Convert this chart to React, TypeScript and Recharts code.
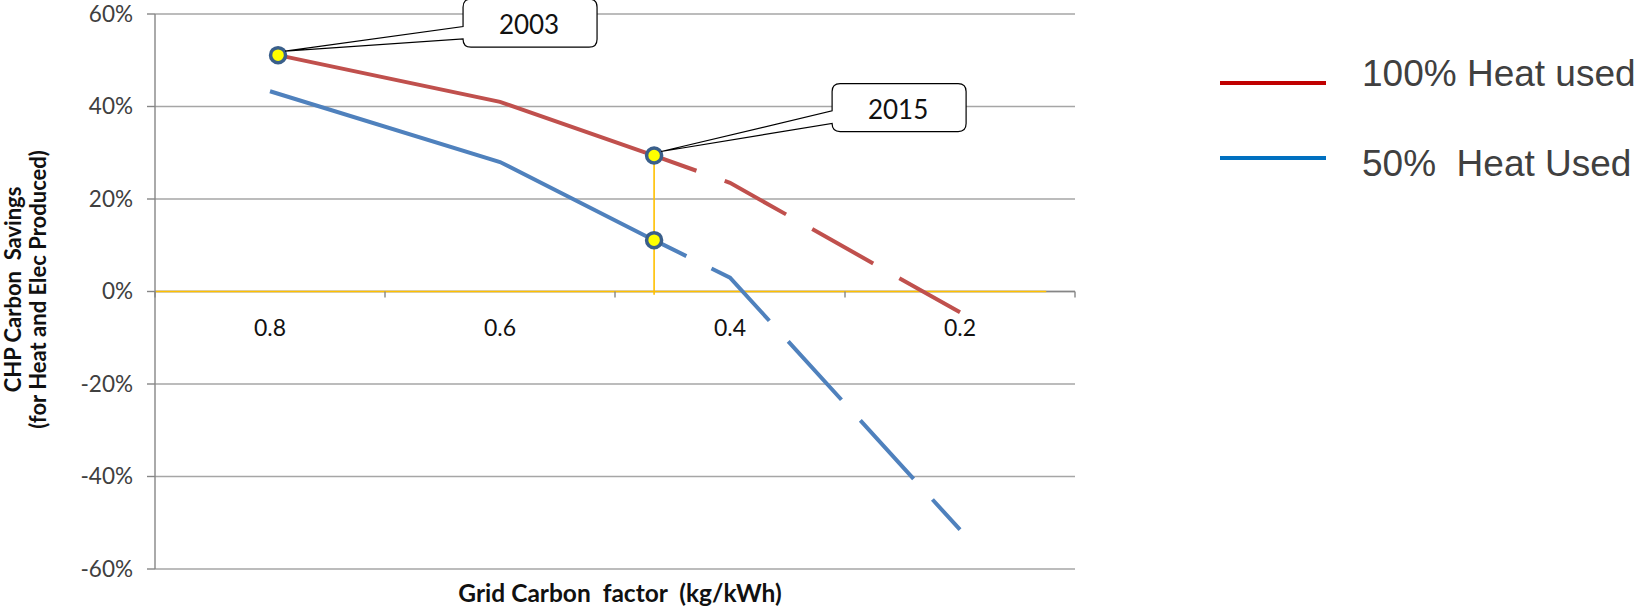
import React from 'react';
import {
  ComposedChart, Line, Scatter, XAxis, YAxis, CartesianGrid,
  ReferenceLine, ReferenceDot,
} from 'recharts';

// grid carbon factor (kg/kWh) vs CHP carbon savings (%)
const red100Solid = [
  { x: 0.793, y: 51.1 },
  { x: 0.6, y: 41 },
  { x: 0.466, y: 29.4 },
];
const red100Dashed = [
  { x: 0.466, y: 29.4 },
  { x: 0.4, y: 23.5 },
  { x: 0.2, y: -4.5 },
];
const blue50Solid = [
  { x: 0.8, y: 43.3 },
  { x: 0.6, y: 28 },
  { x: 0.466, y: 11.1 },
];
const blue50Dashed = [
  { x: 0.466, y: 11.1 },
  { x: 0.4, y: 3 },
  { x: 0.2, y: -51.5 },
];
const yearMarkers = [
  { x: 0.793, y: 51.1 },
  { x: 0.466, y: 29.4 },
  { x: 0.466, y: 11.1 },
];
const callouts = [
  { x: 0.793, y: 51.1, label: '2003', dx: 185, dy: -56 },
  { x: 0.466, y: 29.4, label: '2015', dx: 178, dy: -72 },
];
const xLabels = [0.8, 0.6, 0.4, 0.2];
const xTickMarks = [0.9, 0.7, 0.5, 0.3, 0.1];
const yTicks = [-60, -40, -20, 0, 20, 40, 60];
const legendItems = [
  { name: '100% Heat used', color: '#C00000' },
  { name: '50%  Heat Used', color: '#0070C0' },
];

const RED = '#C0504D';
const BLUE = '#4F81BD';
const GOLD = '#FFC000';
const GRID = '#A6A6A6';
const AXIS = '#868686';
const TXT = '#404040';
const FONT = 'Lato, "Open Sans", sans-serif';

const Callout = ({ cx, cy, dx, dy, label }: any) => {
  const w = 134, h = 48, r = 8;
  const left = cx + dx, top = cy + dy;
  const a1 = top + h * 0.57, a2 = top + h * 0.83;
  const tipX = cx + 7, tipY = cy - 4;
  const d = [
    `M ${left + r} ${top}`,
    `L ${left + w - r} ${top}`,
    `Q ${left + w} ${top} ${left + w} ${top + r}`,
    `L ${left + w} ${top + h - r}`,
    `Q ${left + w} ${top + h} ${left + w - r} ${top + h}`,
    `L ${left + r} ${top + h}`,
    `Q ${left} ${top + h} ${left} ${top + h - r}`,
    `L ${left} ${a2}`,
    `L ${tipX} ${tipY}`,
    `L ${left} ${a1}`,
    `L ${left} ${top + r}`,
    `Q ${left} ${top} ${left + r} ${top}`,
    'Z',
  ].join(' ');
  return (
    <g>
      <path d={d} fill="#fff" stroke="#000" strokeWidth={1.2} />
      <text x={left + w / 2 - 1} y={top + h / 2 + 1} textAnchor="middle" dominantBaseline="central"
        fontFamily={FONT} fontSize={26} fill="#111">{label}</text>
    </g>
  );
};

const YearDot = (props: any) => (
  <circle cx={props.cx} cy={props.cy} r={7.5} fill="#FFFF00" stroke="#3A5F8B" strokeWidth={3.5} />
);

const YTitle = ({ viewBox }: any) => {
  const cy = viewBox.y + viewBox.height / 2 - 2;
  return (
    <g fontFamily={FONT} fontWeight="bold" fontSize={22} fill="#111">
      <text transform={`translate(12.5, ${cy}) rotate(-90)`} textAnchor="middle" dominantBaseline="central"
        style={{ whiteSpace: 'pre' }}>CHP Carbon  Savings</text>
      <text transform={`translate(37, ${cy}) rotate(-90)`} textAnchor="middle" dominantBaseline="central"
        style={{ whiteSpace: 'pre' }}>(for Heat and Elec Produced)</text>
    </g>
  );
};

const XTitle = ({ viewBox }: any) => (
  <text x={viewBox.x + viewBox.width / 2 + 5} y={viewBox.y + 23} textAnchor="middle" dominantBaseline="central"
    fontFamily={FONT} fontWeight="bold" fontSize={24.5} fill="#111" style={{ whiteSpace: 'pre' }}>
    Grid Carbon  factor  (kg/kWh)
  </text>
);

const LegendOverlay = () => (
  <div style={{ position: 'absolute', left: 0, top: 0, fontFamily: '"Liberation Sans", Arial, sans-serif', color: TXT }}>
    {legendItems.map((it, i) => {
      const lineY = i === 0 ? 81 : 156;
      const textTop = i === 0 ? 55 : 145;
      return (
        <React.Fragment key={it.name}>
          <div style={{ position: 'absolute', left: 1220, top: lineY, width: 106, height: 4, background: it.color }} />
          <div style={{ position: 'absolute', left: 1362, top: textTop, fontSize: 37, lineHeight: '37px', whiteSpace: 'pre' }}>
            {it.name}
          </div>
        </React.Fragment>
      );
    })}
  </div>
);

export default function App() {
  return (
    <div style={{ position: 'absolute', left: 0, top: 0, width: 1639, height: 607, background: '#fff' }}>
      <ComposedChart width={1639} height={607} margin={{ top: 14, right: 564, bottom: 0, left: 0 }}>
        <CartesianGrid vertical={false} stroke={GRID} strokeWidth={1.4} />
        <XAxis type="number" dataKey="x" domain={[0.1, 0.9]} reversed allowDataOverflow
          height={38} tick={false} axisLine={false} tickLine={false}
          label={{ content: XTitle }} />
        <YAxis type="number" dataKey="y" domain={[-60, 60]} ticks={yTicks} width={155}
          tickFormatter={(v) => `${v}%`} interval={0}
          tick={{ fill: TXT, fontSize: 22.5, fontFamily: FONT }}
          axisLine={{ stroke: AXIS, strokeWidth: 1.4 }} tickLine={{ stroke: AXIS, strokeWidth: 1.4 }}
          tickSize={8} tickMargin={14} label={{ content: YTitle }} />
        <ReferenceLine y={0} stroke={AXIS} strokeWidth={1.4} />
        <ReferenceLine segment={[{ x: 0.9, y: 0 }, { x: 0.125, y: 0 }]} stroke={GOLD} strokeWidth={1.6} />
        <ReferenceLine segment={[{ x: 0.466, y: 29.4 }, { x: 0.466, y: -0.7 }]} stroke={GOLD} strokeWidth={1.6} />
        {xTickMarks.map((v) => (
          <ReferenceDot key={`t${v}`} x={v} y={0} r={0}
            shape={(p: any) => <line x1={p.cx} y1={p.cy} x2={p.cx} y2={p.cy + 6} stroke={AXIS} strokeWidth={1.4} />} />
        ))}
        {xLabels.map((v) => (
          <ReferenceDot key={`l${v}`} x={v} y={0} r={0}
            shape={(p: any) => (
              <text x={p.cx} y={p.cy + 35} textAnchor="middle" dominantBaseline="central"
                fontFamily={FONT} fontSize={23} fill="#111">{v.toFixed(1)}</text>
            )} />
        ))}
        <Line data={red100Solid} dataKey="y" type="linear" stroke={RED} strokeWidth={4} dot={false} isAnimationActive={false} />
        <Line data={red100Dashed} dataKey="y" type="linear" stroke={RED} strokeWidth={4}
          strokeDasharray="70 30" strokeDashoffset={25} dot={false} isAnimationActive={false} />
        <Line data={blue50Solid} dataKey="y" type="linear" stroke={BLUE} strokeWidth={4} dot={false} isAnimationActive={false} />
        <Line data={blue50Dashed} dataKey="y" type="linear" stroke={BLUE} strokeWidth={4}
          strokeDasharray="79 28" strokeDashoffset={43} dot={false} isAnimationActive={false} />
        <Scatter data={yearMarkers} dataKey="y" shape={YearDot} isAnimationActive={false} />
        {callouts.map((c) => (
          <ReferenceDot key={c.label} x={c.x} y={c.y} r={0}
            shape={(p: any) => <Callout cx={p.cx} cy={p.cy} dx={c.dx} dy={c.dy} label={c.label} />} />
        ))}
      </ComposedChart>
      <LegendOverlay />
    </div>
  );
}
